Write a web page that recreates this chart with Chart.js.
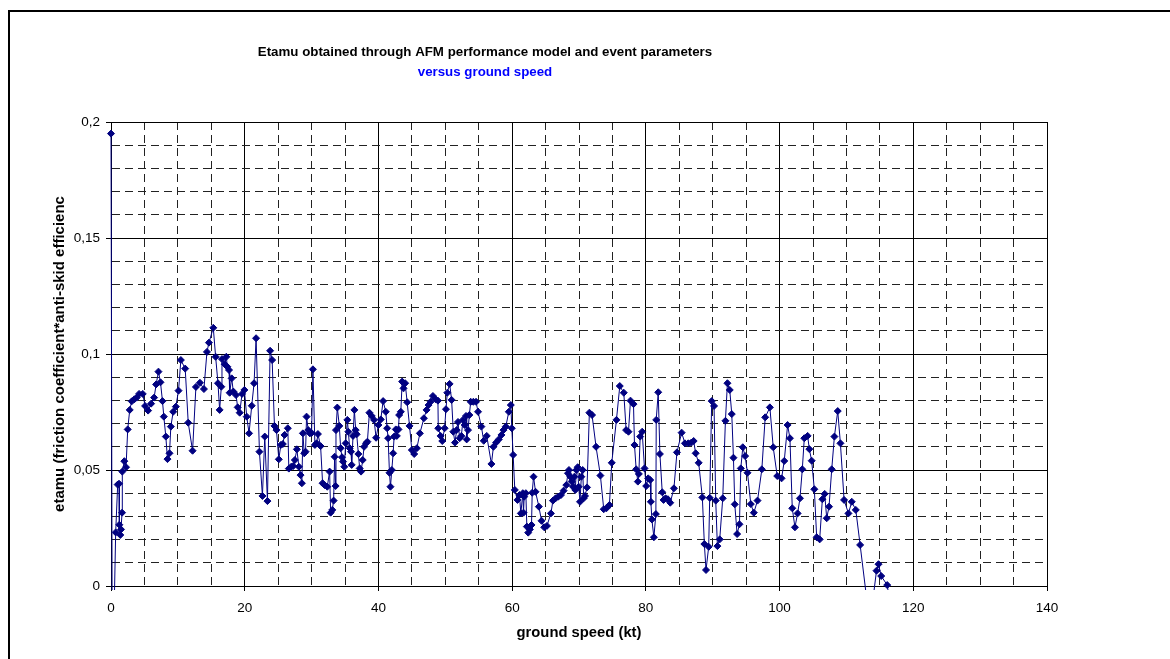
<!DOCTYPE html>
<html>
<head>
<meta charset="utf-8">
<title>Etamu versus ground speed</title>
<script src="https://cdn.jsdelivr.net/npm/chart.js@4.4.1/dist/chart.umd.min.js"></script>
<style>
  html, body { margin: 0; padding: 0; background: #fff; }
  #wrap { position: relative; width: 1170px; height: 659px; overflow: hidden; }
  #frame {
    position: absolute; left: 8px; top: 10px; width: 1200px; height: 700px;
    border-left: 2px solid #000; border-top: 2px solid #000;
  }
  #chart { position: absolute; left: 0; top: 0; }
</style>
</head>
<body>
<div id="wrap">
  <div id="frame"></div>
  <canvas id="chart" width="1170" height="659"></canvas>
</div>
<script>
// values (ground speed in kt, etamu)
const speed = [
  0, 0.2, 0.7, 1.0, 1.2, 1.25, 1.39, 1.5, 1.65, 1.69, 1.99, 2.25, 2.5, 2.8, 3.1, 3.5, 3.85, 4.2, 4.75, 5.1,
  5.55, 6.0, 6.45, 6.75, 7.1, 7.4, 7.7, 7.9, 8.2, 8.45, 8.75, 8.95, 9.3, 9.7, 10.1, 10.45, 11.1, 11.55, 12.2, 12.7,
  13.3, 13.9, 14.35, 14.65, 15.3, 15.65, 16.0, 16.25, 16.5, 16.6, 17.0, 17.25, 17.4, 17.65, 17.75, 18.05, 18.3, 18.7, 18.95, 19.25,
  19.6, 19.95, 20.3, 20.65, 21.05, 21.4, 21.7, 22.2, 22.65, 23.0, 23.4, 23.8, 24.1, 24.45, 24.75, 25.1, 25.4, 25.7, 25.95, 26.45,
  26.6, 26.95, 27.25, 27.5, 27.8, 28.1, 28.35, 28.55, 28.7, 28.9, 29.1, 29.25, 29.5, 29.75, 30.0, 30.2, 30.5, 30.75, 30.95, 31.35,
  31.65, 31.95, 32.35, 32.7, 32.85, 33.1, 33.3, 33.45, 33.6, 33.65, 33.85, 34.15, 34.35, 34.55, 34.7, 34.9, 35.1, 35.35, 35.5, 35.7,
  35.9, 36.0, 36.2, 36.4, 36.6, 36.75, 37.0, 37.2, 37.4, 37.65, 37.85, 38.15, 38.35, 38.65, 39.0, 39.35, 39.65, 40.0, 40.35, 40.7,
  41.1, 41.3, 41.45, 41.65, 41.8, 42.0, 42.2, 42.35, 42.6, 42.75, 43.0, 43.1, 43.35, 43.55, 43.75, 44.0, 44.3, 44.65, 45.0, 45.35,
  45.75, 46.2, 46.8, 47.2, 47.5, 47.8, 48.15, 48.55, 48.9, 48.95, 49.3, 49.55, 49.9, 50.1, 50.3, 50.65, 50.95, 51.2, 51.45, 51.7,
  51.9, 52.15, 52.4, 52.65, 52.9, 53.1, 53.2, 53.4, 53.6, 53.8, 54.2, 54.6, 54.9, 55.4, 55.75, 56.2, 56.9, 57.2, 57.6, 58.0,
  58.4, 58.7, 59.05, 59.5, 59.8, 59.95, 60.15, 60.4, 60.8, 61.1, 61.3, 61.6, 61.7, 61.8, 62.05, 62.2, 62.4, 62.65, 62.9, 63.0,
  63.2, 63.5, 64.0, 64.4, 64.8, 65.2, 65.8, 66.1, 66.5, 66.9, 67.3, 67.7, 68.1, 68.35, 68.5, 68.7, 68.9, 69.1, 69.3, 69.45,
  69.6, 69.8, 69.95, 70.15, 70.35, 70.55, 70.7, 70.9, 71.2, 71.55, 71.95, 72.55, 73.2, 73.7, 74.1, 74.55, 74.9, 75.6, 76.1, 76.7,
  77.05, 77.4, 77.7, 78.15, 78.3, 78.55, 78.8, 78.95, 79.15, 79.45, 79.8, 80.05, 80.35, 80.65, 80.75, 80.9, 81.2, 81.5, 81.55, 81.85,
  82.1, 82.45, 82.65, 82.95, 83.3, 83.65, 84.2, 84.65, 85.35, 85.85, 86.35, 86.8, 87.15, 87.45, 87.9, 88.45, 88.75, 89.0, 89.4, 89.55,
  89.85, 90.2, 90.45, 90.7, 91.05, 91.5, 91.9, 92.2, 92.55, 92.85, 93.1, 93.3, 93.65, 94.0, 94.2, 94.5, 94.85, 95.2, 95.7, 96.15,
  96.7, 97.35, 97.85, 98.55, 99.05, 99.65, 100.3, 100.7, 101.2, 101.55, 101.9, 102.3, 102.7, 103.05, 103.4, 103.7, 104.2, 104.45, 104.8, 105.2,
  105.55, 106.0, 106.4, 106.75, 107.05, 107.4, 107.8, 108.2, 108.7, 109.1, 109.65, 110.3, 110.8, 111.4, 112.05, 113.5, 114.5, 114.8, 115.2, 116.1,
  117.2
];
const etamu = [
  0.195, -0.05, 0.0231, 0.0437, 0.0441, 0.0264, 0.022, 0.0244, 0.0316, 0.0493, 0.0538, 0.0512, 0.0675, 0.0759, 0.0796, 0.0805, 0.0812, 0.0828, 0.0828, 0.0776,
  0.0756, 0.0786, 0.0812, 0.0869, 0.0924, 0.0878, 0.0797, 0.073, 0.0644, 0.0547, 0.0572, 0.0687, 0.0751, 0.0773, 0.0842, 0.0974, 0.0937, 0.0704, 0.0583, 0.0858,
  0.0876, 0.0849, 0.1009, 0.1049, 0.1113, 0.0988, 0.0874, 0.0759, 0.0859, 0.0978, 0.0956, 0.0988, 0.0945, 0.0931, 0.0833, 0.0895, 0.0838, 0.0823, 0.077, 0.0747,
  0.0828, 0.0845, 0.073, 0.0658, 0.0777, 0.0874, 0.1068, 0.0579, 0.0388, 0.0644, 0.0366, 0.1014, 0.0974, 0.069, 0.0672, 0.0546, 0.0608, 0.0612, 0.0651, 0.068,
  0.0506, 0.0514, 0.0517, 0.0543, 0.0589, 0.0514, 0.0478, 0.0443, 0.0658, 0.0572, 0.0579, 0.073, 0.0672, 0.0658, 0.066, 0.0934, 0.0608, 0.0615, 0.0655, 0.0603,
  0.0443, 0.0435, 0.0428, 0.0493, 0.0316, 0.0328, 0.0368, 0.0557, 0.0431, 0.0672, 0.0769, 0.069, 0.0594, 0.0555, 0.0536, 0.0514, 0.0615, 0.0716, 0.0665, 0.0594,
  0.0579, 0.0522, 0.0647, 0.0759, 0.0672, 0.0654, 0.0569, 0.0507, 0.0493, 0.0543, 0.06, 0.0615, 0.0622, 0.0747, 0.0733, 0.0716, 0.0639, 0.0694, 0.0718, 0.0797,
  0.0751, 0.068, 0.0637, 0.0488, 0.0428, 0.05, 0.0572, 0.0644, 0.0675, 0.0647, 0.0675, 0.0737, 0.0751, 0.0881, 0.0852, 0.0874, 0.0792, 0.069, 0.0586, 0.0569,
  0.0594, 0.0658, 0.0723, 0.0759, 0.078, 0.0794, 0.0819, 0.0805, 0.0799, 0.068, 0.0647, 0.0625, 0.068, 0.0762, 0.0833, 0.0871, 0.0802, 0.0665, 0.0618, 0.0672,
  0.0707, 0.0637, 0.0647, 0.0716, 0.0694, 0.0733, 0.0632, 0.0672, 0.0737, 0.0794, 0.0794, 0.0794, 0.0751, 0.0687, 0.0626, 0.0647, 0.0526, 0.06, 0.0618, 0.0632,
  0.0651, 0.0672, 0.0687, 0.0751, 0.078, 0.068, 0.0565, 0.0414, 0.0371, 0.0392, 0.0313, 0.04, 0.0316, 0.0385, 0.04, 0.0256, 0.023, 0.0244, 0.0263, 0.0402,
  0.0471, 0.0406, 0.0342, 0.0281, 0.0253, 0.0259, 0.0313, 0.0368, 0.0378, 0.0385, 0.0392, 0.0411, 0.0435, 0.0486, 0.05, 0.0471, 0.045, 0.0428, 0.0471, 0.0414,
  0.05, 0.0512, 0.0428, 0.0363, 0.0471, 0.05, 0.0378, 0.0388, 0.0425, 0.0747, 0.0737, 0.06, 0.0476, 0.0331, 0.0335, 0.0349, 0.0531, 0.0716, 0.0862, 0.0833,
  0.0672, 0.0665, 0.0799, 0.0784, 0.0608, 0.0503, 0.045, 0.0483, 0.0644, 0.0665, 0.0507, 0.0431, 0.0464, 0.0457, 0.0363, 0.0287, 0.021, 0.031, 0.0716, 0.0835,
  0.0569, 0.0404, 0.0371, 0.0378, 0.0374, 0.0359, 0.0421, 0.0576, 0.0661, 0.0615, 0.0615, 0.0618, 0.0625, 0.0572, 0.0531, 0.0382, 0.0181, 0.0069, 0.0169, 0.038,
  0.0797, 0.0776, 0.0368, 0.0172, 0.0201, 0.0378, 0.0712, 0.0874, 0.0845, 0.0741, 0.0553, 0.0352, 0.0224, 0.0266, 0.0507, 0.0598, 0.056, 0.0488, 0.0353, 0.0316,
  0.0368, 0.0503, 0.0727, 0.077, 0.0598, 0.0474, 0.0464, 0.0539, 0.0694, 0.0637, 0.0335, 0.0253, 0.0313, 0.0378, 0.0503, 0.0637, 0.0647, 0.059, 0.054, 0.0417,
  0.021, 0.0201, 0.0374, 0.0397, 0.0292, 0.0342, 0.0503, 0.0644, 0.0754, 0.0615, 0.0371, 0.0313, 0.0363, 0.0328, 0.0177, -0.0165, 0.0066, 0.0094, 0.0043, 0.0004,
  -0.02
];

// axis ticks: labelled (solid) ones and the step of the dashed ones
const xMajorTicks = [0, 20, 40, 60, 80, 100, 120, 140];
const xMinorStep = 5;
const yMajorTicks = [0, 0.05, 0.1, 0.15, 0.2];
const yMinorStep = 0.01;

const titleText = 'Etamu obtained through AFM performance model and event parameters';
const subtitleText = 'versus ground speed';
const xTitle = 'ground speed (kt)';
const yTitle = 'etamu (friction coefficient*anti-skid efficienc';

Chart.defaults.font.family = '"Liberation Sans", Arial, sans-serif';
Chart.defaults.color = '#000';

function isMajor(list, v) {
  return list.some(t => Math.abs(t - v) < 1e-6);
}

function gridOpts(list) {
  return {
    color: ctx => isMajor(list, ctx.tick.value) ? '#000' : '#222',
    lineWidth: 1,
    drawTicks: true,
    tickLength: 5,
    tickColor: ctx => isMajor(list, ctx.tick.value) ? '#000' : 'rgba(0,0,0,0)'
  };
}

function borderOpts(list) {
  return {
    color: '#000',
    width: 1,
    dash: ctx => (ctx.tick && !isMajor(list, ctx.tick.value)) ? [8, 5] : []
  };
}

// chart and subtitle, drawn where the picture has them (left of plot centre)
const headerText = {
  id: 'headerText',
  afterDraw(chart) {
    const ctx = chart.ctx;
    ctx.save();
    ctx.textAlign = 'center';
    ctx.textBaseline = 'alphabetic';
    ctx.font = 'bold 13.3px "Liberation Sans", Arial, sans-serif';
    ctx.fillStyle = '#000';
    ctx.fillText(titleText, 485, 56);
    ctx.fillStyle = '#0000FF';
    ctx.fillText(subtitleText, 485, 76);
    ctx.restore();
  }
};

const points = speed.map((s, i) => ({ x: s, y: etamu[i] }));

new Chart(document.getElementById('chart'), {
  type: 'scatter',
  data: {
    datasets: [{
      data: points,
      showLine: true,
      borderColor: '#000080',
      borderWidth: 1,
      pointStyle: 'rectRot',
      pointRadius: 3.5,
      pointBackgroundColor: '#000080',
      pointBorderColor: '#000080',
      pointBorderWidth: 1,
      clip: { left: 6, top: 6, right: 6, bottom: 4 }
    }]
  },
  options: {
    responsive: false,
    animation: false,
    layout: { padding: { left: 0, top: 122, right: 123, bottom: 0 } },
    plugins: {
      legend: { display: false },
      tooltip: { enabled: false }
    },
    scales: {
      x: {
        type: 'linear',
        min: 0,
        max: 140,
        grid: gridOpts(xMajorTicks),
        border: borderOpts(xMajorTicks),
        ticks: {
          stepSize: xMinorStep,
          autoSkip: false,
          maxRotation: 0,
          padding: 9,
          font: { size: 13.5 },
          callback: v => isMajor(xMajorTicks, v) ? String(v) : ''
        },
        title: {
          display: true,
          text: xTitle,
          font: { size: 14.8, weight: 'bold' },
          padding: { top: 0, bottom: 17 }
        },
        afterFit: scale => { scale.height = 73; }
      },
      y: {
        type: 'linear',
        min: 0,
        max: 0.2,
        grid: gridOpts(yMajorTicks),
        border: borderOpts(yMajorTicks),
        ticks: {
          stepSize: yMinorStep,
          autoSkip: false,
          padding: 6,
          font: { size: 13.5 },
          callback: v => isMajor(yMajorTicks, v)
            ? String(Math.round(v * 100) / 100).replace('.', ',')
            : ''
        },
        title: {
          display: true,
          text: yTitle,
          font: { size: 15, weight: 'bold' },
          padding: { top: 51, bottom: 0 }
        },
        afterFit: scale => { scale.width = 111; }
      }
    }
  },
  plugins: [headerText]
});
</script>
</body>
</html>
